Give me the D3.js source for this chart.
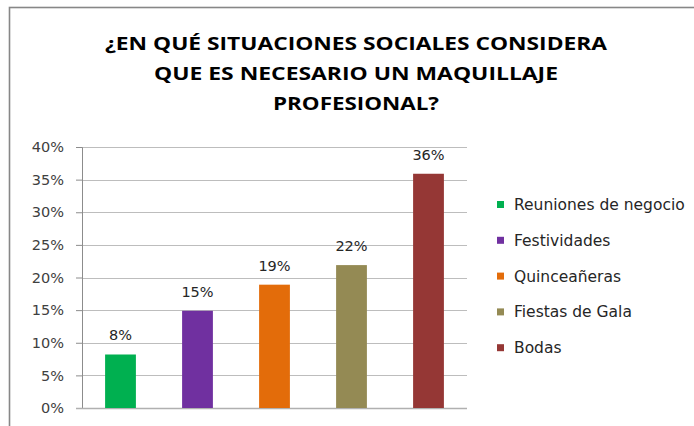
<!DOCTYPE html>
<html>
<head>
<meta charset="utf-8">
<script src="https://cdn.jsdelivr.net/npm/d3@7"></script>
<style>
  body { margin: 0; background: #fff; }
  svg { display: block; }
  text { font-family: "DejaVu Sans", sans-serif; }
</style>
</head>
<body>
<div id="chart"></div>
<script>
// data
var categories = ["Reuniones de negocio", "Festividades", "Quinceañeras", "Fiestas de Gala", "Bodas"];
var values = [0.082, 0.149, 0.189, 0.219, 0.359];
var colors = ["#00B050", "#7030A0", "#E36C0A", "#948A54", "#953735"];
var yTicks = [0, 0.05, 0.10, 0.15, 0.20, 0.25, 0.30, 0.35, 0.40];
var titleLines = ["¿EN QUÉ SITUACIONES SOCIALES CONSIDERA", "QUE ES NECESARIO UN MAQUILLAJE", "PROFESIONAL?"];

var W = 694, H = 426;
var margin = { top: 147, left: 82, right: 227, bottom: 18 },
    width = W - margin.left - margin.right,
    height = H - margin.top - margin.bottom;

var root = d3.select("#chart")
    .append("svg")
    .attr("width", W)
    .attr("height", H);

// outer frame of the chart
root.append("rect")
    .attr("x", 9.5).attr("y", 7.5)
    .attr("width", W + 20).attr("height", H + 20)
    .attr("fill", "#fff")
    .attr("stroke", "#878787")
    .attr("stroke-width", 1.6);

// title
var titleWidths = [502, 404, 166];
var titleBase = [50, 80, 110];
root.append("g").selectAll("text")
    .data(titleLines)
    .enter().append("text")
    .attr("x", 356)
    .attr("y", function (d, i) { return titleBase[i]; })
    .attr("text-anchor", "middle")
    .style("font-family", "'Open Sans', sans-serif")
    .style("font-size", "17.5px")
    .style("font-weight", "bold")
    .attr("fill", "#000")
    .attr("textLength", function (d, i) { return titleWidths[i]; })
    .attr("lengthAdjust", "spacingAndGlyphs")
    .text(function (d) { return d; });

var svg = root.append("g")
    .attr("transform", "translate(" + margin.left + "," + margin.top + ")");

var x = d3.scaleBand()
    .domain(categories)
    .range([0, width])
    .paddingInner(0.6)
    .paddingOuter(0.3);

var y = d3.scaleLinear()
    .domain([0, 0.40])
    .range([height, 0]);

// gridlines
svg.append("g")
    .selectAll("line")
    .data(yTicks.slice(1))
    .enter().append("line")
    .attr("x1", 0).attr("x2", width)
    .attr("y1", function (d) { return Math.round(y(d)) + 0.5; })
    .attr("y2", function (d) { return Math.round(y(d)) + 0.5; })
    .attr("stroke", "#BDBDBD")
    .attr("stroke-width", 1);

// y axis
var yAxis = svg.append("g")
    .call(d3.axisLeft(y)
        .tickValues(yTicks)
        .tickSize(6)
        .tickPadding(12)
        .tickFormat(d3.format(".0%")));
yAxis.select(".domain").attr("stroke", "#8C8C8C");
yAxis.selectAll(".tick line").attr("stroke", "#8C8C8C");
yAxis.selectAll(".tick text")
    .attr("font-size", "14.5px")
    .attr("fill", "#404040");

// baseline
svg.append("line")
    .attr("x1", -6).attr("x2", width)
    .attr("y1", y(0) + 0.5).attr("y2", y(0) + 0.5)
    .attr("stroke", "#B0B0B0")
    .attr("stroke-width", 1.5);

// bars
svg.append("g")
    .selectAll("rect")
    .data(values)
    .enter().append("rect")
    .attr("x", function (d, i) { return x(categories[i]); })
    .attr("y", function (d) { return y(d); })
    .attr("width", x.bandwidth())
    .attr("height", function (d) { return y(0) - y(d); })
    .attr("fill", function (d, i) { return colors[i]; });

// value labels
svg.append("g")
    .selectAll("text")
    .data(values)
    .enter().append("text")
    .attr("x", function (d, i) { return x(categories[i]) + x.bandwidth() / 2; })
    .attr("y", function (d) { return y(d) - 14; })
    .attr("text-anchor", "middle")
    .attr("font-size", "14.5px")
    .attr("fill", "#262626")
    .text(function (d) { return Math.round(d * 100) + "%"; });

// legend
var legend = root.append("g")
    .attr("transform", "translate(497,205)");
var item = legend.selectAll("g")
    .data(categories)
    .enter().append("g")
    .attr("transform", function (d, i) { return "translate(0," + (i * 35.8) + ")"; });
item.append("rect")
    .attr("x", 0).attr("y", -4)
    .attr("width", 7).attr("height", 7)
    .attr("fill", function (d, i) { return colors[i]; });
item.append("text")
    .attr("x", 17)
    .attr("y", 5)
    .attr("font-size", "15.5px")
    .attr("fill", "#262626")
    .text(function (d) { return d; });
</script>
</body>
</html>
